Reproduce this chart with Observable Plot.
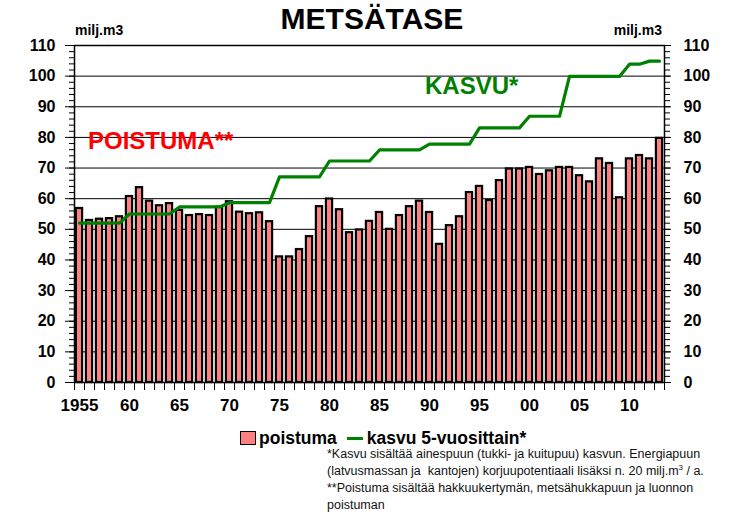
<!DOCTYPE html>
<html>
<head>
<meta charset="utf-8">
<script src="https://cdn.jsdelivr.net/npm/d3@7"></script>
<script src="https://cdn.jsdelivr.net/npm/@observablehq/plot@0.6"></script>
<style>
  body { margin: 0; background: #fff; font-family: "Liberation Sans", Arial, sans-serif; }
  #wrap { position: relative; width: 741px; height: 514px; overflow: hidden; background: #fff; }
  #chart { position: absolute; left: 0; top: 0; }
  .abs { position: absolute; white-space: nowrap; }
  .title { left: 0; width: 744px; top: 2px; text-align: center; font-weight: bold; font-size: 30px; line-height: 34px; }
  .unit { top: 22px; font-weight: bold; font-size: 14px; line-height: 16px; }
  .ann { font-weight: bold; font-size: 24px; line-height: 26px; }
  .legend { top: 428px; left: 240px; font-weight: bold; font-size: 17.5px; line-height: 20px; display: flex; align-items: center; }
  .sw { display: inline-block; width: 14px; height: 12px; background: #ff8080; border: 1.5px solid #000; margin-right: 3px; }
  .ln { display: inline-block; width: 16px; height: 3px; background: #008000; margin-left: 10px; margin-right: 4px; }
  .foot { left: 327px; top: 446px; font-size: 12.5px; line-height: 17px; color: #111; }
</style>
</head>
<body>
<div id="wrap">
  <div id="chart"></div>
  <div class="abs title">METSÄTASE</div>
  <div class="abs unit" style="left:75px">milj.m3</div>
  <div class="abs unit" style="right:79px">milj.m3</div>
  <div class="abs ann" style="left:88px;top:128px;color:#ff0000">POISTUMA**</div>
  <div class="abs ann" style="left:425px;top:73px;color:#008000">KASVU*</div>
  <div class="abs legend"><span class="sw"></span>poistuma<span class="ln"></span>kasvu 5-vuosittain*</div>
  <div class="abs foot">*Kasvu sisältää ainespuun (tukki- ja kuitupuu) kasvun. Energiapuun<br>(latvusmassan ja&nbsp; kantojen) korjuupotentiaali lisäksi n. 20 milj.m<sup style="font-size:8px;line-height:0">3</sup> / a.<br>**Poistuma sisältää hakkuukertymän, metsähukkapuun ja luonnon<br>poistuman</div>
</div>
<script>
// Years 1955–2013
const years = [1955,1956,1957,1958,1959,1960,1961,1962,1963,1964,1965,1966,1967,1968,1969,
  1970,1971,1972,1973,1974,1975,1976,1977,1978,1979,1980,1981,1982,1983,1984,
  1985,1986,1987,1988,1989,1990,1991,1992,1993,1994,1995,1996,1997,1998,1999,
  2000,2001,2002,2003,2004,2005,2006,2007,2008,2009,2010,2011,2012,2013];

// poistuma (milj. m3)
const poistuma = [56.8,52.9,53.3,53.5,54.1,60.7,63.6,59.2,57.7,58.4,56.2,54.5,54.8,54.5,57.2,
  59.0,55.6,55.1,55.4,52.5,41.0,41.0,43.4,47.6,57.4,59.9,56.4,48.9,49.8,52.6,
  55.5,50.0,54.5,57.4,59.2,55.5,45.1,51.2,54.1,62.0,64.0,59.4,65.9,69.7,69.7,
  70.2,67.9,69.1,70.2,70.2,67.5,65.5,73.0,71.5,60.3,73.0,74.1,73.0,79.7];

// kasvu 5-vuosittain (milj. m3)
const kasvu = [52.0,52.0,52.0,52.0,52.0,55.0,55.0,55.0,55.0,55.0,57.3,57.3,57.3,57.3,57.3,
  58.7,58.7,58.7,58.7,58.7,67.1,67.1,67.1,67.1,67.1,72.3,72.3,72.3,72.3,72.3,
  75.9,75.9,75.9,75.9,75.9,77.8,77.8,77.8,77.8,77.8,83.1,83.1,83.1,83.1,83.1,
  86.9,86.9,86.9,86.9,99.9,99.9,99.9,99.9,99.9,99.9,103.9,103.9,104.9,104.9];

// Axis ticks and labels
const yTicks = [0,10,20,30,40,50,60,70,80,90,100,110];
const xLabelYears = [1955,1960,1965,1970,1975,1980,1985,1990,1995,2000,2005,2010];
const xLabels = ["1955","60","65","70","75","80","85","90","95","00","05","10"];

const data = years.map((year, i) => ({year, poistuma: poistuma[i], kasvu: kasvu[i]}));
const half = 0.31;
const boundaries = years.map(y => y - 0.5).concat([years[years.length - 1] + 0.5]);
const minorY = d3.range(0, 111, 2);
const labelOf = new Map(xLabelYears.map((y, i) => [y, xLabels[i]]));

const chart = Plot.plot({
  width: 741,
  height: 514,
  marginTop: 45,
  marginBottom: 132,
  marginLeft: 74,
  marginRight: 77,
  style: {fontFamily: "'Liberation Sans', Arial, sans-serif", color: "#000", background: "#fff"},
  x: {type: "linear", domain: [years[0] - 0.5, years[years.length - 1] + 0.5]},
  y: {domain: [0, 110]},
  marks: [
    Plot.gridY(yTicks, {stroke: "#000", strokeOpacity: 1, strokeWidth: 1}),
    Plot.rectY(data, {x1: d => d.year - half, x2: d => d.year + half, y: "poistuma", fill: "#ff8080", stroke: "#000", strokeWidth: 2.2}),
    Plot.line(data, {x: "year", y: "kasvu", stroke: "#008000", strokeWidth: 3.2}),
    Plot.axisY({anchor: "left", ticks: minorY, tickSize: 5, tickFormat: () => "", strokeWidth: 1}),
    Plot.axisY({anchor: "left", ticks: yTicks, tickSize: 9, tickPadding: 10, fontSize: 16, fontWeight: "bold", label: null}),
    Plot.axisY({anchor: "right", ticks: minorY, tickSize: 5, tickFormat: () => "", strokeWidth: 1}),
    Plot.axisY({anchor: "right", ticks: yTicks, tickSize: 6, tickPadding: 13, fontSize: 16, fontWeight: "bold", label: null}),
    Plot.axisX({anchor: "bottom", ticks: boundaries, tickSize: 8, tickFormat: () => "", label: null}),
    Plot.axisX({anchor: "bottom", ticks: xLabelYears, tickSize: 0, tickPadding: 16, tickFormat: y => labelOf.get(y), fontSize: 17, fontWeight: "bold", label: null}),
    Plot.frame({stroke: "#000", strokeWidth: 1.5})
  ]
});
document.getElementById("chart").appendChild(chart);
</script>
</body>
</html>
